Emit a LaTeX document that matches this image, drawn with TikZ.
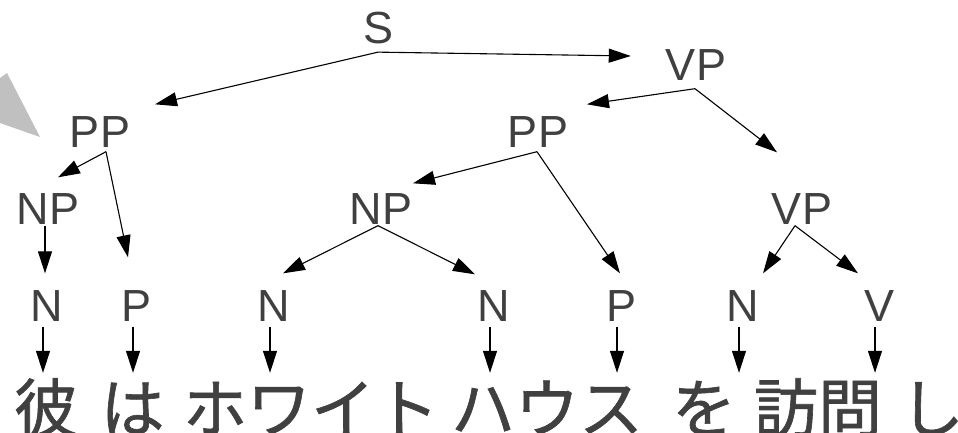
\documentclass[tikz,border=0pt]{standalone}
\usepackage{fontspec}
\setmainfont{Liberation Sans}
\newfontfamily\jpfont[FakeBold=1]{Noto Sans CJK JP}
\definecolor{labelgrey}{RGB}{64,64,64}
\definecolor{pointergrey}{RGB}{192,192,192}
\usetikzlibrary{arrows.meta, calc}

\begin{document}
\begin{tikzpicture}[x=1pt, y=-1pt,
  cat/.style={text=labelgrey, font=\fontsize{45}{50}\selectfont, inner sep=0pt},
  word/.style={text=labelgrey, font=\jpfont\fontsize{64}{70}\selectfont, inner sep=0pt,
    text height=59pt, text depth=0pt, anchor=base},
  branch/.style={line width=1.1pt, -{Triangle[length=22pt, width=14pt]}}]
  \path[use as bounding box] (0,0) rectangle (958,432);
  \clip (0,0) rectangle (958,432);

  % grey pointer coming in from the left edge
  \fill[pointergrey] (0,78) -- (7,73) -- (40,137) -- (0,123) -- cycle;

  % phrase labels
  \node[cat] (S) at (379,28) {S};
  \node[cat] (VPt) at (696,65) {VP};
  \node[cat] (PPl) at (100,132) {PP};
  \node[cat] (PPm) at (538,132) {PP};
  \node[cat] (NPl) at (48,209) {NP};
  \node[cat] (NPm) at (381,209) {NP};
  \node[cat] (VPr) at (802,209) {VP};

  % the sentence
  \node[word] (kare) at (46,432) {彼};
  \node[word] (ha) at (132.5,432) {は};
  \node[word] (howaito) at (311,432) {ホワイト};
  \node[word] (hausu) at (547,432) {ハウス};
  \node[word] (wo) at (704,432) {を};
  \node[word] (houmon) at (818,432) {訪問};
  \node[word] (shi) at (932,432) {し};

  % parts of speech, each pointing down to the sentence
  \foreach \name/\x/\lab in {N1/47/N, P1/137/P, N2/274/N, N3/494/N, P2/621/P, N4/743/N, V1/879/V} {
    \node[cat] (\name) at (\x,306) {\lab};
    \draw[branch] ([shift={(-4,5)}]\name.south) -- ($(\name.south |- kare.north)+(-4,0)$);
  }

  % tree branches
  \draw[branch] ([shift={(-1,8)}]S.south) -- ([shift={(55,-12)}]PPl.north);
  \draw[branch] ([shift={(-1,8)}]S.south) -- ([shift={(-35,-9)}]VPt.west);
  \draw[branch] ([shift={(6,4)}]PPl.south) -- ([shift={(10,-16)}]NPl.north);
  \draw[branch] ([shift={(6,4)}]PPl.south) -- ([shift={(-9,-33)}]P1.north);
  \draw[branch] ([shift={(-3,1)}]NPl.south) -- ([shift={(-2,-17)}]N1.north);
  \draw[branch] ([shift={(-1,8)}]VPt.south) -- ([shift={(49,-12)}]PPm.north);
  \draw[branch] ([shift={(-1,8)}]VPt.south) -- ([shift={(-25,-41)}]VPr.north);
  \draw[branch] ([shift={(-1,4)}]PPm.south) -- ([shift={(32,-10)}]NPm.north);
  \draw[branch] ([shift={(-1,4)}]PPm.south) -- ([shift={(-1,-17)}]P2.north);
  \draw[branch] ([shift={(-3,1)}]NPm.south) -- ([shift={(9,-17)}]N2.north);
  \draw[branch] ([shift={(-3,1)}]NPm.south) -- ([shift={(-19,-16)}]N3.north);
  \draw[branch] ([shift={(-7,1)}]VPr.south) -- ([shift={(20,-17)}]N4.north);
  \draw[branch] ([shift={(-7,1)}]VPr.south) -- ([shift={(-21,-17)}]V1.north);
\end{tikzpicture}
\end{document}
